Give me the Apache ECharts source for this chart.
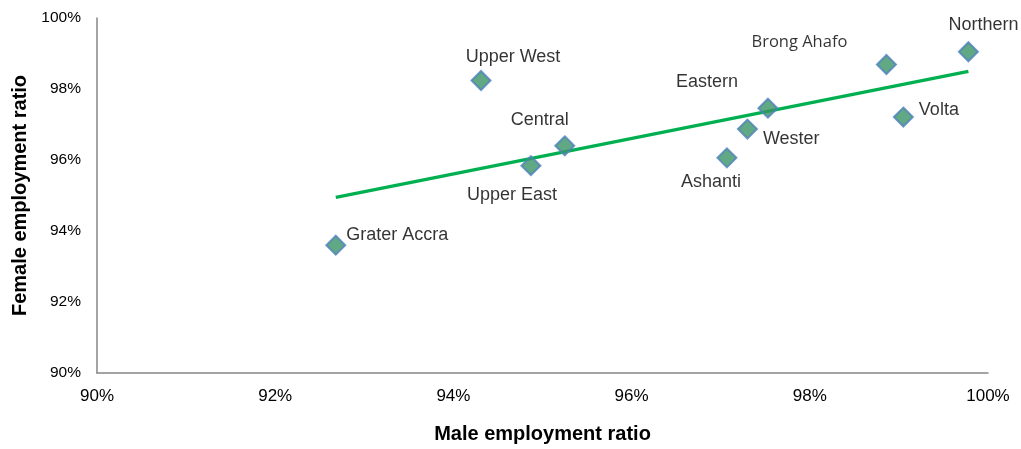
<!DOCTYPE html>
<html>
<head>
<meta charset="utf-8">
<script src="https://cdn.jsdelivr.net/npm/echarts@6/dist/echarts.min.js"></script>
<style>html,body{margin:0;padding:0;background:#fff;overflow:hidden}#c{width:1021px;height:449px}</style>
</head>
<body>
<div id="c"></div>
<script>
// Data (percent)
var regions = ['Grater Accra','Upper West','Upper East','Central','Ashanti','Wester','Eastern','Brong Ahafo','Volta','Northern'];
var maleRatio = [92.68, 94.31, 94.87, 95.25, 97.07, 97.30, 97.53, 98.86, 99.05, 99.78];
var femaleRatio = [93.60, 98.24, 95.84, 96.40, 96.06, 96.87, 97.46, 98.69, 97.21, 99.05];
var xTicks = [90, 92, 94, 96, 98, 100];
var yTicks = [90, 92, 94, 96, 98, 100];

// Label placement (style, not data)
var labelLayout = {
  'Grater Accra': {position:'right', offset:[-5,-10]},
  'Upper West': {position:'top', offset:[32,1]},
  'Upper East': {position:'bottom', offset:[-19,5]},
  'Central': {position:'top', offset:[-25,-1]},
  'Ashanti': {position:'bottom', offset:[-16,0]},
  'Wester': {position:'right', offset:[0,10]},
  'Eastern': {position:'top', offset:[-61,-2]},
  'Brong Ahafo': {position:'top', offset:[-87,2], fontFamily:'Open Sans', fontSize:16.5},
  'Volta': {position:'right', offset:[0,-7]},
  'Northern': {position:'top', offset:[15,-2]}
};

// Linear trendline (least squares)
var n = maleRatio.length, mx = 0, my = 0;
for (var i=0;i<n;i++){mx+=maleRatio[i];my+=femaleRatio[i];}
mx/=n; my/=n;
var sxy=0, sxx=0;
for (var i=0;i<n;i++){sxy+=(maleRatio[i]-mx)*(femaleRatio[i]-my); sxx+=(maleRatio[i]-mx)*(maleRatio[i]-mx);}
var slope = sxy/sxx, icpt = my - slope*mx;
var xMin = Math.min.apply(null, maleRatio), xMax = Math.max.apply(null, maleRatio);
var trend = [[xMin, icpt+slope*xMin],[xMax, icpt+slope*xMax]];

var pts = regions.map(function(r,i){
  var l = labelLayout[r];
  var lab = {show:true, formatter:r, position:l.position, offset:l.offset, distance:5,
    color:'#000', fontSize:l.fontSize||18, fontFamily:l.fontFamily||'Liberation Sans, Arial, sans-serif'};
  return {name:r, value:[maleRatio[i], femaleRatio[i]], label:lab};
});

var chart = echarts.init(document.getElementById('c'), null, {renderer:'canvas', width:1021, height:449});
chart.setOption({
  animation:false,
  backgroundColor:'#fff',
  grid:{left:97, top:18, right:33, bottom:73, containLabel:false},
  xAxis:{type:'value', min:xTicks[0], max:xTicks[xTicks.length-1], interval:2,
    name:'Male employment ratio', nameLocation:'middle', nameGap:51,
    nameTextStyle:{fontFamily:'Liberation Sans, Arial', fontWeight:'bold', fontSize:20, color:'#000'},
    axisLine:{lineStyle:{color:'#868686', width:1.5}}, axisTick:{show:false}, splitLine:{show:false},
    axisLabel:{formatter:'{value}%', fontFamily:'Liberation Sans, Arial', fontSize:17, color:'#000', margin:15}},
  yAxis:{type:'value', min:yTicks[0], max:yTicks[yTicks.length-1], interval:2,
    name:'Female employment ratio', nameLocation:'middle', nameGap:67,
    nameTextStyle:{fontFamily:'Liberation Sans, Arial', fontWeight:'bold', fontSize:20, color:'#000'},
    axisLine:{show:true, lineStyle:{color:'#868686', width:1.5}}, axisTick:{show:false}, splitLine:{show:false},
    axisLabel:{formatter:'{value}%', fontFamily:'Liberation Sans, Arial', fontSize:15.5, color:'#000', margin:16}},
  series:[
    {type:'line', data:trend, symbol:'none', lineStyle:{color:'#00b050', width:3.5}, z:2, silent:true},
    {type:'scatter', data:pts, symbol:'diamond', symbolSize:19,
      itemStyle:{color:'#3a9365', borderColor:'#4f81bd', borderWidth:2}, z:3}
  ]
});
</script>
</body>
</html>
